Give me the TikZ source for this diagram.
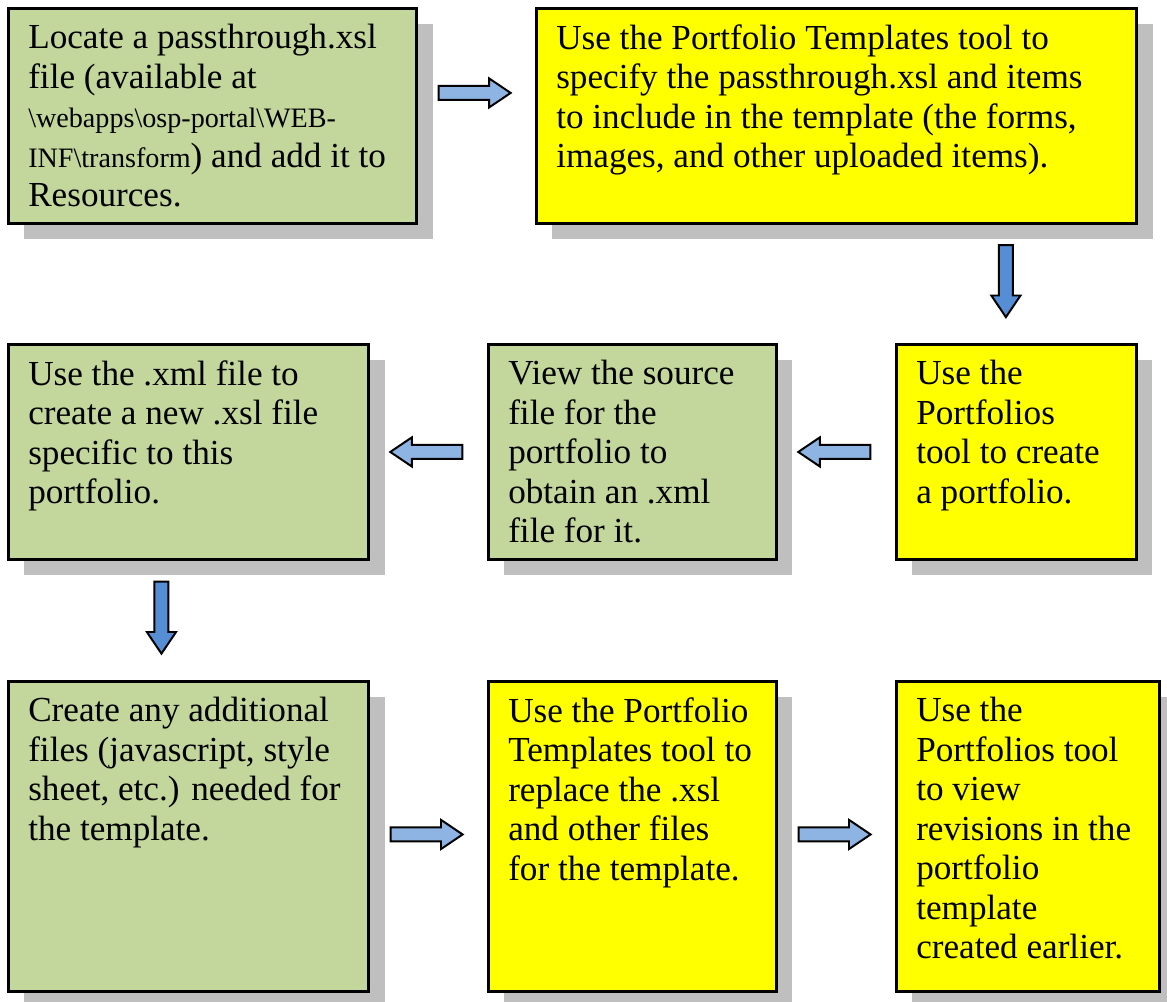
\documentclass[tikz,border=0pt]{standalone}
\usepackage{fontspec}
\setmainfont{Liberation Serif}
\usetikzlibrary{positioning, calc, shapes.arrows, shadows}
\definecolor{stepgreen}{HTML}{C3D69B}
\definecolor{stepyellow}{HTML}{FFFF00}
\definecolor{arrowlight}{HTML}{8DB4E2}
\definecolor{arrowdark}{HTML}{558ED5}
\newcommand{\bs}{\textbackslash}
\newcommand{\pathfont}{\fontsize{20}{28.1}\selectfont}

\tikzset{
  stepbox/.style={draw, line width=2pt, anchor=north west, inner sep=0pt,
    drop shadow={shadow xshift=4mm, shadow yshift=-4mm, fill=black!25, opacity=1}},
  steptext/.style={anchor=north west, inner sep=0pt, align=left,
    font=\fontsize{25}{28.1}\selectfont},
  flow/.style={single arrow, draw, line width=1.4pt, minimum height=18mm,
    inner sep=1.5mm, single arrow head extend=1.9mm,
    single arrow tip angle=68, single arrow head indent=0pt},
}

\begin{document}
\begin{tikzpicture}[x=0.025cm, y=-0.025cm]
  \useasboundingbox (0,0) rectangle (1167,1002);

  % boxes, top row
  \node[stepbox, fill=stepgreen, minimum width=102mm, minimum height=53.75mm] (b1) at (7,7) {};
  \node[stepbox, fill=stepyellow, minimum width=150mm, minimum height=53.75mm] (b2) at (535,7) {};
  % middle row
  \node[stepbox, fill=stepyellow, minimum width=60mm, minimum height=53.75mm] (b3) at (895,343) {};
  \node[stepbox, fill=stepgreen, minimum width=72mm, minimum height=53.75mm] (b4) at (487,343) {};
  \node[stepbox, fill=stepgreen, minimum width=90mm, minimum height=53.75mm] (b5) at (7,343) {};
  % bottom row
  \node[stepbox, fill=stepgreen, minimum width=90mm, minimum height=77.5mm] (b6) at (7,680) {};
  \node[stepbox, fill=stepyellow, minimum width=72mm, minimum height=77.5mm] (b7) at (487,680) {};
  \node[stepbox, fill=stepyellow, minimum width=65.75mm, minimum height=77.5mm] (b8) at (895,680) {};

  % texts
  \node[steptext] (t1) at ([shift={(21,17)}]b1.north west)
    {Locate a passthrough.xsl\\ file (available at\\
     {\pathfont\bs webapps\bs osp-portal\bs WEB-}\\
     {\pathfont INF\bs transform}) and add it to\\ Resources.};
  \node[steptext] (t2) at ([shift={(21,17)}]b2.north west)
    {Use the Portfolio Templates tool to\\ specify the passthrough.xsl and items\\
     to include in the template (the forms,\\ images, and other uploaded items).};
  \node[steptext] (t3) at ([shift={(21,17)}]b3.north west)
    {Use the\\ Portfolios\\ tool to create\\ a portfolio.};
  \node[steptext] (t4) at ([shift={(21,17)}]b4.north west)
    {View the source\\ file for the\\ portfolio to\\ obtain an .xml\\ file for it.};
  \node[steptext] (t5) at ([shift={(21,17)}]b5.north west)
    {Use the .xml file to\\ create a new .xsl file\\ specific to this\\ portfolio.};
  \node[steptext] (t6) at ([shift={(21,17)}]b6.north west)
    {Create any additional\\ files (javascript, style\\ sheet, etc.) needed for\\ the template.};
  \node[steptext] (t7) at ([shift={(21,17)}]b7.north west)
    {Use the Portfolio\\ Templates tool to\\ replace the .xsl\\ and other files\\ for the template.};
  \node[steptext] (t8) at ([shift={(21,17)}]b8.north west)
    {Use the\\ Portfolios tool\\ to view\\ revisions in the\\ portfolio\\ template\\ created earlier.};

  % block arrows between the steps
  \node[flow, fill=arrowlight] (a1) at ($(b1.east)!0.5!(b2.west) + (-7,-23)$) {};
  \node[flow, fill=arrowdark, shape border rotate=270] (a2)
    at ($(b2.south east)!0.5!(b3.north east) + (-132,-8)$) {};
  \node[flow, fill=arrowlight, shape border rotate=180] (a3) at ($(b3.west)!0.5!(b4.east) + (3,0)$) {};
  \node[flow, fill=arrowlight, shape border rotate=180] (a4) at ($(b4.west)!0.5!(b5.east) + (3,0)$) {};
  \node[flow, fill=arrowdark, shape border rotate=270] (a5)
    at ($(b5.south)!0.5!(b6.north) + (-27,-8)$) {};
  \node[flow, fill=arrowlight] (a6) at ($(b6.east)!0.5!(b7.west) + (-7,-2)$) {};
  \node[flow, fill=arrowlight] (a7) at ($(b7.east)!0.5!(b8.west) + (-7,-2)$) {};
\end{tikzpicture}
\end{document}
